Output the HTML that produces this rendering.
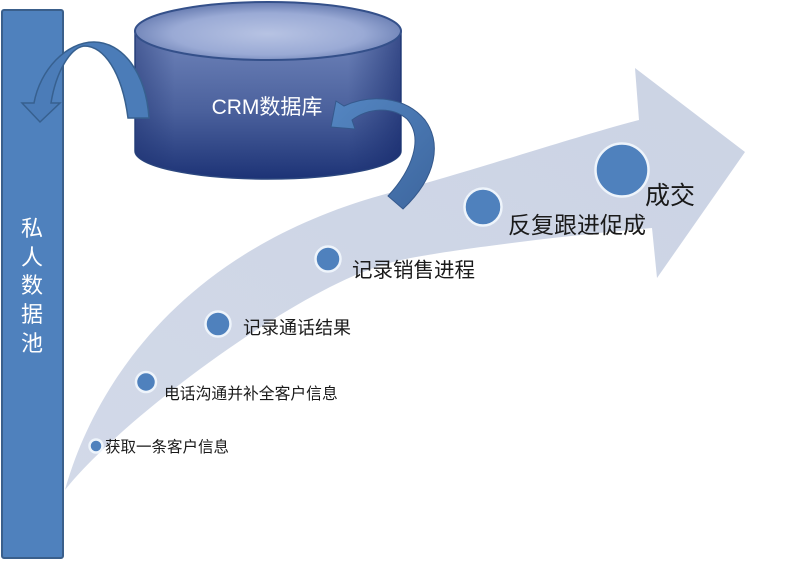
<!DOCTYPE html>
<html><head><meta charset="utf-8"><style>
html,body{margin:0;padding:0;background:#fff;}
body{width:799px;height:561px;overflow:hidden;}
svg{display:block;}
text{font-family:"Liberation Sans","Noto Sans CJK SC",sans-serif;}
</style></head><body>
<svg width="799" height="561" viewBox="0 0 799 561" xmlns="http://www.w3.org/2000/svg">
<defs>
<linearGradient id="bodyV" x1="0" y1="0" x2="0" y2="1">
<stop offset="0" stop-color="#7085bb"/>
<stop offset="0.55" stop-color="#4a609c"/>
<stop offset="1" stop-color="#1d3376"/>
</linearGradient>
<linearGradient id="bodyH" x1="0" y1="0" x2="1" y2="0">
<stop offset="0" stop-color="#1b2f6e" stop-opacity="0.45"/>
<stop offset="0.15" stop-color="#1b2f6e" stop-opacity="0"/>
<stop offset="0.8" stop-color="#1b2f6e" stop-opacity="0"/>
<stop offset="1" stop-color="#14276a" stop-opacity="0.6"/>
</linearGradient>
<radialGradient id="topG" cx="0.5" cy="0.55" r="0.6">
<stop offset="0" stop-color="#b7c3e3"/>
<stop offset="0.6" stop-color="#9aaad5"/>
<stop offset="1" stop-color="#5a70a8"/>
</radialGradient>
<linearGradient id="band" x1="0" y1="1" x2="1" y2="0">
<stop offset="0" stop-color="#d2d9e8"/>
<stop offset="1" stop-color="#cbd3e4"/>
</linearGradient>
<linearGradient id="arrR" x1="0" y1="0" x2="1" y2="1">
<stop offset="0" stop-color="#5486c2"/>
<stop offset="1" stop-color="#3d669e"/>
</linearGradient>
</defs>

<!-- big light arrow -->
<path d="M65,490 C90,400 170,250 393,192 C460,175 580,135 639,120 L635,68 L745,152 L657,278 L652,228 C560,236 430,252 393,262 C300,285 120,420 65,490 Z" fill="url(#band)"/>

<!-- left bar -->
<rect x="2" y="10" width="61" height="548" rx="2" fill="#4f81bd" stroke="#3a5f8b" stroke-width="2"/>
<g fill="#ffffff" font-size="22" text-anchor="middle">
<text x="32" y="236">私</text>
<text x="32" y="265">人</text>
<text x="32" y="293">数</text>
<text x="32" y="322">据</text>
<text x="32" y="351">池</text>
</g>

<!-- cylinder -->
<path d="M135,31 L135,151 A133,28 0 0 0 401,151 L401,31 Z" fill="url(#bodyV)" stroke="#2c477f" stroke-width="1.5"/>
<path d="M135,31 L135,151 A133,28 0 0 0 401,151 L401,31 Z" fill="url(#bodyH)"/>
<ellipse cx="268" cy="31" rx="133" ry="29" fill="url(#topG)" stroke="#34508a" stroke-width="2"/>
<text x="267" y="114" fill="#ffffff" font-size="21" text-anchor="middle">CRM数据库</text>

<!-- left curved arrow -->
<path d="M149,118 C146,72 122,42 94,42 C66,42 40,70 34,103 L22,103 L40,122 L60,103 L51,103 C56,72 70,48 84,46 C104,46 122,72 128,118 Z" fill="#4b7cb8" stroke="#37608f" stroke-width="1.5"/>

<!-- right curved arrow -->
<path d="M331,127 L336,101 L344,106 C370,94 405,96 425,120 C441,142 438,176 403,209 L388,196 C412,170 424,138 407,119 C392,106 368,108 352,120 L355,129 Z" fill="url(#arrR)" stroke="#35598c" stroke-width="1"/>

<!-- circles -->
<g fill="#4f81bd" stroke="#eef4fb" stroke-width="2.5">
<circle cx="96" cy="446" r="6.5"/>
<circle cx="146" cy="382" r="10"/>
<circle cx="218" cy="324" r="12.5"/>
<circle cx="328" cy="259" r="12.5"/>
<circle cx="483" cy="207" r="18.5"/>
<circle cx="622" cy="170" r="26.5"/>
</g>

<!-- labels -->
<g fill="#1a1a1a">
<text x="105" y="452" font-size="15.5">获取一条客户信息</text>
<text x="164" y="399" font-size="15.8">电话沟通并补全客户信息</text>
<text x="243" y="334" font-size="18">记录通话结果</text>
<text x="352" y="277" font-size="20.5">记录销售进程</text>
<text x="508" y="233" font-size="23">反复跟进促成</text>
<text x="645" y="204" font-size="25">成交</text>
</g>
</svg>
</body></html>
